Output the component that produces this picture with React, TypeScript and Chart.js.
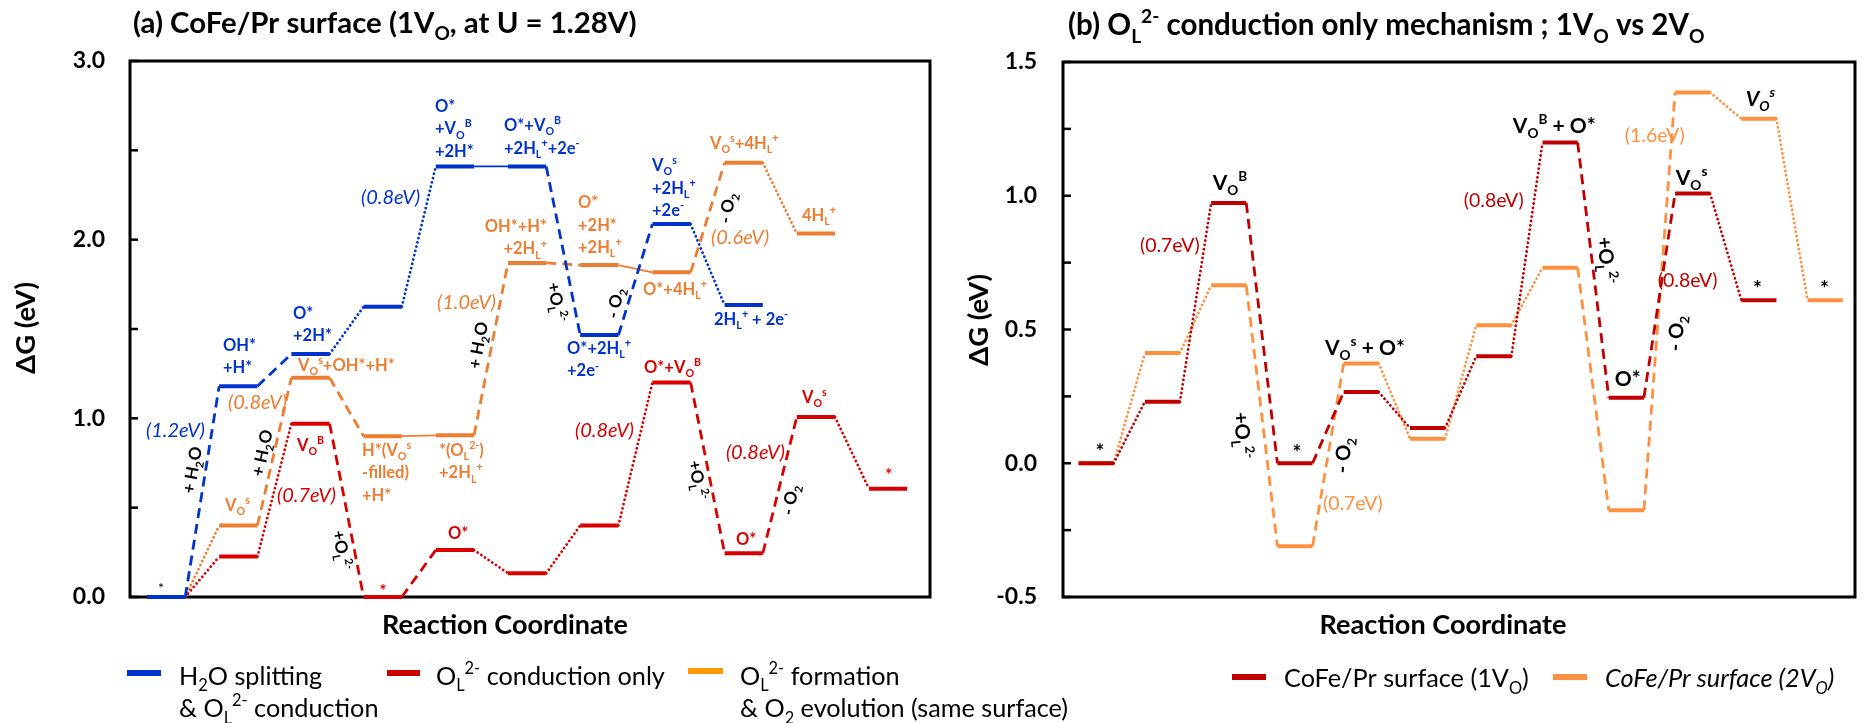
import React, { useEffect, useRef } from 'react';
import { Chart, registerables } from 'chart.js';
Chart.register(...registerables);

const FONT = 'Lato, "Noto Sans", sans-serif';
const BLUE = '#0033CC';
const RED_L = '#D80000';
const ORANGE_L = '#ED7D31';
const RED_R = '#C00000';
const ORANGE_R = '#FF9040';
const BLACK = '#000000';

// ---------- Panel (a) data: free energy of each state, column 1..n ----------
const leftBlueLevels = [0, 1.18, 1.36, 1.625, 2.41, 2.41, 1.466, 2.087, 1.634];
const leftBlueLinks = ['dash', 'dash', 'dot', 'dot', 'solid', 'dash', 'dash', 'dot'];
const leftRedLevels = [0, 0.226, 0.97, 0, 0.263, 0.133, 0.4, 1.2, 0.245, 1.007, 0.606];
const leftRedLinks = ['dot', 'dot', 'dash', 'dash', 'dot', 'dot', 'dot', 'dash', 'dash', 'dot'];
const leftOrangeLevels = [0, 0.4, 1.227, 0.9, 0.905, 1.87, 1.858, 1.817, 2.43, 2.035];
const leftOrangeLinks = ['dot', 'dash', 'dash', 'solid', 'dash', 'dash', 'solid', 'dash', 'dot'];
const leftYRange = [0, 3];
const leftXRange = [0.5, 11.58];

// ---------- Panel (b) data ----------
const rightRedLevels = [0, 0.23, 0.973, 0, 0.266, 0.132, 0.4, 1.199, 0.245, 1.008, 0.609];
const rightRedLinks = ['dot', 'dot', 'dash', 'dash', 'dot', 'dot', 'dot', 'dash', 'dash', 'dot'];
const rightOrangeLevels = [0, 0.412, 0.665, -0.31, 0.373, 0.092, 0.516, 0.731, -0.176, 1.386, 1.288, 0.609];
const rightOrangeLinks = ['dot', 'dot', 'dash', 'dash', 'dot', 'dot', 'dot', 'dash', 'dash', 'dot', 'dot'];
const rightYRange = [-0.5, 1.5];
const rightXRange = [0.5, 12.45];

const LEVEL_HALF = 0.265;

type Lab = { t: string[]; x: number; y: number; c: string; size?: number; w?: string; st?: string; al?: 'left' | 'center' | 'right'; rot?: number };

// ---------- Panel (a) annotations (x: column, y: eV) ----------
const leftStateLabels: Lab[] = [
  { t: ['OH*', '+H*'], x: 1.788, y: 1.41, c: BLUE },
  { t: ['O*', '+2H*'], x: 2.758, y: 1.589, c: BLUE },
  { t: ['O*', '+V_{O}^{B}', '+2H*'], x: 4.724, y: 2.748, c: BLUE },
  { t: ['O*+V_{O}^{B}', '+2H_{L}^{+}+2e^{-}'], x: 5.68, y: 2.641, c: BLUE },
  { t: ['V_{O}^{s}', '+2H_{L}^{+}', '+2e^{-}'], x: 7.73, y: 2.417, c: BLUE },
  { t: ['O*+2H_{L}^{+}', '+2e^{-}'], x: 6.553, y: 1.393, c: BLUE },
  { t: ['2H_{L}^{+} + 2e^{-}'], x: 8.589, y: 1.556, c: BLUE },
  { t: ['V_{O}^{s}'], x: 1.816, y: 0.515, c: ORANGE_L },
  { t: ['V_{O}^{s}+OH*+H*'], x: 2.827, y: 1.298, c: ORANGE_L },
  { t: ['H*(V_{O}^{s}', '-filled)', '+H*'], x: 3.713, y: 0.823, c: ORANGE_L },
  { t: ['*(O_{L}^{2-})', '+2H_{L}^{+}'], x: 4.78, y: 0.823, c: ORANGE_L },
  { t: ['OH*+H*', '+2H_{L}^{+}'], x: 6.276, y: 2.076, c: ORANGE_L, al: 'right' },
  { t: ['O*', '+2H*', '+2H_{L}^{+}'], x: 6.705, y: 2.21, c: ORANGE_L },
  { t: ['O*+4H_{L}^{+}'], x: 7.605, y: 1.724, c: ORANGE_L },
  { t: ['V_{O}^{s}+4H_{L}^{+}'], x: 8.533, y: 2.54, c: ORANGE_L },
  { t: ['4H_{L}^{+}'], x: 9.807, y: 2.138, c: ORANGE_L },
  { t: ['V_{O}^{B}'], x: 2.813, y: 0.851, c: RED_L },
  { t: ['*'], x: 4.004, y: 0.035, c: RED_L, al: 'center' },
  { t: ['O*'], x: 4.904, y: 0.358, c: RED_L },
  { t: ['O*+V_{O}^{B}'], x: 7.619, y: 1.287, c: RED_L },
  { t: ['O*'], x: 8.893, y: 0.325, c: RED_L },
  { t: ['V_{O}^{s}'], x: 9.807, y: 1.119, c: RED_L },
  { t: ['*'], x: 11.01, y: 0.68, c: RED_L, al: 'center' },
  { t: ['*'], x: 0.93, y: 0.05, c: BLACK, al: 'center', size: 14, w: 'normal' },
];
const leftEnergyLabels: Lab[] = [
  { t: ['(1.2eV)'], x: 0.722, y: 0.935, c: BLUE },
  { t: ['(0.8eV)'], x: 3.7, y: 2.238, c: BLUE },
  { t: ['(0.8eV)'], x: 1.857, y: 1.091, c: ORANGE_L },
  { t: ['(1.0eV)'], x: 4.752, y: 1.651, c: ORANGE_L },
  { t: ['(0.6eV)'], x: 8.547, y: 2.015, c: ORANGE_L },
  { t: ['(0.7eV)'], x: 2.536, y: 0.571, c: RED_L },
  { t: ['(0.8eV)'], x: 6.663, y: 0.935, c: RED_L },
  { t: ['(0.8eV)'], x: 8.753, y: 0.811, c: RED_L },
];
const leftStepLabels: Lab[] = [
  { t: ['+ H_{2}O'], x: 1.359, y: 0.711, c: BLACK, rot: -80 },
  { t: ['+ H_{2}O'], x: 2.328, y: 0.806, c: BLACK, rot: -78 },
  { t: ['+O_{L}^{2-}'], x: 3.436, y: 0.263, c: BLACK, rot: 80 },
  { t: ['+ H_{2}O'], x: 5.32, y: 1.41, c: BLACK, rot: -80 },
  { t: ['+O_{L}^{2-}'], x: 6.414, y: 1.651, c: BLACK, rot: 80 },
  { t: ['- O_{2}'], x: 7.217, y: 1.645, c: BLACK, rot: -80 },
  { t: ['- O_{2}'], x: 8.769, y: 2.177, c: BLACK, rot: -80 },
  { t: ['+O_{L}^{2-}'], x: 8.367, y: 0.655, c: BLACK, rot: 80 },
  { t: ['- O_{2}'], x: 9.641, y: 0.543, c: BLACK, rot: -80 },
];

// ---------- Panel (b) annotations ----------
const rightStateLabels: Lab[] = [
  { t: ['*'], x: 1.058, y: 0.045, c: BLACK, al: 'center' },
  { t: ['V_{O}^{B}'], x: 3.019, y: 1.05, c: BLACK, al: 'center' },
  { t: ['V_{O}^{s} + O*'], x: 4.452, y: 0.434, c: BLACK },
  { t: ['*'], x: 4.03, y: 0.042, c: BLACK, al: 'center' },
  { t: ['V_{O}^{B} + O*'], x: 7.287, y: 1.263, c: BLACK },
  { t: ['O*'], x: 8.826, y: 0.318, c: BLACK },
  { t: ['V_{O}^{s}'], x: 9.746, y: 1.069, c: BLACK },
  { t: ['V_{O}^{s}'], x: 10.8, y: 1.364, c: BLACK, st: 'italic' },
  { t: ['*'], x: 10.98, y: 0.652, c: BLACK, al: 'center' },
  { t: ['*'], x: 11.99, y: 0.652, c: BLACK, al: 'center' },
];
const rightEnergyLabels: Lab[] = [
  { t: ['(0.7eV)'], x: 1.661, y: 0.815, c: RED_R },
  { t: ['(0.7eV)'], x: 4.422, y: -0.15, c: ORANGE_R },
  { t: ['(0.8eV)'], x: 6.548, y: 0.983, c: RED_R },
  { t: ['(1.6eV)'], x: 8.977, y: 1.226, c: ORANGE_R },
  { t: ['(0.8eV)'], x: 9.474, y: 0.684, c: RED_R },
];
const rightStepLabels: Lab[] = [
  { t: ['+O_{L}^{2-}'], x: 3.215, y: 0.104, c: BLACK, rot: 85 },
  { t: ['- O_{2}'], x: 4.723, y: 0.03, c: BLACK, rot: -85 },
  { t: ['+O_{L}^{2-}'], x: 8.705, y: 0.759, c: BLACK, rot: 85 },
  { t: ['- O_{2}'], x: 9.746, y: 0.486, c: BLACK, rot: -85 },
];

// ---------- rich text helpers ----------
type Run = { t: string; m: number };
function runsOf(s: string): Run[] {
  const runs: Run[] = [];
  let buf = '';
  let i = 0;
  while (i < s.length) {
    const ch = s[i];
    if ((ch === '_' || ch === '^') && s[i + 1] === '{') {
      if (buf) { runs.push({ t: buf, m: 0 }); buf = ''; }
      const end = s.indexOf('}', i + 2);
      runs.push({ t: s.slice(i + 2, end), m: ch === '_' ? 1 : 2 });
      i = end + 1;
    } else { buf += ch; i++; }
  }
  if (buf) runs.push({ t: buf, m: 0 });
  return runs;
}
const SUBK = 0.65;
function fnt(size: number, weight: string, style: string) {
  return `${style} ${weight} ${size}px ${FONT}`;
}
function richWidth(ctx: CanvasRenderingContext2D, s: string, size: number, weight: string, style: string) {
  let w = 0;
  for (const r of runsOf(s)) {
    ctx.font = fnt(r.m ? size * SUBK : size, weight, style);
    w += ctx.measureText(r.t).width;
  }
  return w;
}
function drawRich(ctx: CanvasRenderingContext2D, s: string, x: number, y: number, size: number, color: string,
  weight = 'bold', style = 'normal', align: string = 'left') {
  const w = richWidth(ctx, s, size, weight, style);
  let cx = align === 'center' ? x - w / 2 : align === 'right' ? x - w : x;
  const base = y + size * 0.36;
  ctx.fillStyle = color;
  ctx.textAlign = 'left';
  ctx.textBaseline = 'alphabetic';
  for (const r of runsOf(s)) {
    const sz = r.m ? size * SUBK : size;
    ctx.font = fnt(sz, weight, style);
    const dy = r.m === 1 ? size * 0.26 : r.m === 2 ? -size * 0.42 : 0;
    ctx.fillText(r.t, cx, base + dy);
    cx += ctx.measureText(r.t).width;
  }
}
function fitSize(ctx: CanvasRenderingContext2D, s: string, target: number, weight: string, style: string) {
  return (20 * target) / richWidth(ctx, s, 20, weight, style);
}
function drawLabels(chart: any, labels: Lab[], size: number, weight: string, style: string) {
  const { ctx, scales } = chart;
  for (const L of labels) {
    const px = scales.x.getPixelForValue(L.x);
    const py = scales.y.getPixelForValue(L.y);
    const sz = L.size ?? size;
    const w = L.w ?? weight;
    const st = L.st ?? style;
    if (L.rot) {
      ctx.save();
      ctx.translate(px, py);
      ctx.rotate((L.rot * Math.PI) / 180);
      drawRich(ctx, L.t[0], 0, 0, sz, L.c, w, st, 'center');
      ctx.restore();
    } else {
      L.t.forEach((line, i) => drawRich(ctx, line, px, py + i * sz * 1.36, sz, L.c, w, st, L.al ?? 'left'));
    }
  }
}

// ---------- dataset builders ----------
function levelPoints(levels: number[]) {
  const pts: { x: number; y: number }[] = [];
  levels.forEach((v, i) => {
    pts.push({ x: i + 1 - LEVEL_HALF, y: v });
    pts.push({ x: i + 1 + LEVEL_HALF, y: v });
  });
  return pts;
}
function linkType(links: string[], k: number) {
  return k % 2 === 0 ? 'level' : links[(k - 1) / 2];
}
function energyDataset(levels: number[], links: string[], color: string, order: number) {
  return {
    data: levelPoints(levels),
    borderColor: color,
    backgroundColor: color,
    borderWidth: 4,
    pointRadius: 0,
    tension: 0,
    fill: false,
    clip: false as any,
    order,
    segment: {
      borderDash: (c: any) => {
        const t = linkType(links, c.p0DataIndex);
        return t === 'dash' ? [10, 6] : t === 'dot' ? [0.01, 4.4] : [];
      },
      borderWidth: (c: any) => {
        const t = linkType(links, c.p0DataIndex);
        return t === 'level' ? 4 : t === 'solid' ? 1.8 : 2.8;
      },
      borderCapStyle: (c: any) => (linkType(links, c.p0DataIndex) === 'dot' ? 'round' : 'butt'),
    },
  };
}

function framePlugin() {
  return {
    id: 'frame',
    beforeDatasetsDraw(chart: any) {
      const { ctx, chartArea: a, scales } = chart;
      ctx.save();
      ctx.strokeStyle = '#000';
      ctx.lineWidth = 3;
      ctx.strokeRect(a.left, a.top, a.right - a.left, a.bottom - a.top);
      ctx.lineWidth = 2.5;
      for (const t of scales.y.ticks) {
        const py = scales.y.getPixelForValue(t.value);
        ctx.beginPath();
        ctx.moveTo(a.left, py);
        ctx.lineTo(a.left + 8, py);
        ctx.stroke();
      }
      ctx.restore();
    },
  };
}

function baseOptions(xr: number[], yr: number[], step: number, labelEvery: number, axisW: number, padding: any) {
  return {
    responsive: false,
    animation: false as const,
    devicePixelRatio: 1,
    events: [],
    layout: { padding },
    plugins: { legend: { display: false }, tooltip: { enabled: false } },
    scales: {
      x: { type: 'linear' as const, min: xr[0], max: xr[1], display: false },
      y: {
        type: 'linear' as const,
        min: yr[0],
        max: yr[1],
        grid: { display: false, drawTicks: false },
        border: { display: false },
        afterFit: (s: any) => { s.width = axisW; },
        ticks: {
          stepSize: step,
          autoSkip: false,
          padding: 25,
          color: '#000',
          font: { family: FONT, size: 23, weight: 'bold' as const },
          callback: (v: any) => {
            const q = Number(v) / labelEvery;
            return Math.abs(q - Math.round(q)) < 1e-9 ? (Math.abs(Number(v)) < 1e-9 ? '0.0' : Number(v).toFixed(1)) : '';
          },
        },
      },
    },
  };
}

export default function App() {
  const aRef = useRef<HTMLCanvasElement>(null);
  const bRef = useRef<HTMLCanvasElement>(null);

  useEffect(() => {
    const deco = {
      id: 'decoA',
      afterDatasetsDraw(chart: any) {
        drawLabels(chart, leftStateLabels, 16.5, 'bold', 'normal');
        drawLabels(chart, leftEnergyLabels, 20, 'normal', 'italic');
        drawLabels(chart, leftStepLabels, 17, 'bold', 'normal');
      },
      afterDraw(chart: any) {
        const ctx = chart.ctx as CanvasRenderingContext2D;
        ctx.save();
        const title = '(a) CoFe/Pr surface (1V_{O}, at U = 1.28V)';
        drawRich(ctx, title, 133, 22, fitSize(ctx, title, 504, 'bold', 'normal'), BLACK, 'bold');
        const rc = 'Reaction Coordinate';
        drawRich(ctx, rc, 505, 624, fitSize(ctx, rc, 246, 'bold', 'normal'), BLACK, 'bold', 'normal', 'center');
        const yt = 'ΔG (eV)';
        ctx.save();
        ctx.translate(25, 328);
        ctx.rotate(-Math.PI / 2);
        drawRich(ctx, yt, 0, 0, fitSize(ctx, yt, 92, 'bold', 'normal'), BLACK, 'bold', 'normal', 'center');
        ctx.restore();
        // legend
        const ls = fitSize(ctx, 'O_{L}^{2-} conduction only', 229, 'normal', 'normal');
        const sample = (x0: number, x1: number, y: number, c: string) => {
          ctx.strokeStyle = c; ctx.lineWidth = 6; ctx.lineCap = 'butt';
          ctx.beginPath(); ctx.moveTo(x0, y); ctx.lineTo(x1, y); ctx.stroke();
        };
        sample(127, 161, 673, BLUE);
        drawRich(ctx, 'H_{2}O splitting', 179, 675.5, ls, BLACK, 'normal');
        drawRich(ctx, '& O_{L}^{2-} conduction', 179, 708, ls, BLACK, 'normal');
        sample(387, 420, 673, '#CC0000');
        drawRich(ctx, 'O_{L}^{2-} conduction only', 436, 675.5, ls, BLACK, 'normal');
        sample(688, 723, 671, '#FF9900');
        drawRich(ctx, 'O_{L}^{2-} formation', 740, 675.5, ls, BLACK, 'normal');
        drawRich(ctx, '& O_{2} evolution (same surface)', 740, 708, ls, BLACK, 'normal');
        ctx.restore();
      },
    };
    const decoB = {
      id: 'decoB',
      afterDatasetsDraw(chart: any) {
        drawLabels(chart, rightStateLabels, 21, 'bold', 'normal');
        drawLabels(chart, rightEnergyLabels, 19.5, 'normal', 'normal');
        drawLabels(chart, rightStepLabels, 20, 'bold', 'normal');
      },
      afterDraw(chart: any) {
        const ctx = chart.ctx as CanvasRenderingContext2D;
        ctx.save();
        const title = '(b) O_{L}^{2-} conduction only mechanism ; 1V_{O} vs 2V_{O}';
        drawRich(ctx, title, 108, 24.5, fitSize(ctx, title, 637, 'bold', 'normal'), BLACK, 'bold');
        const rc = 'Reaction Coordinate';
        drawRich(ctx, rc, 483, 624, fitSize(ctx, rc, 247, 'bold', 'normal'), BLACK, 'bold', 'normal', 'center');
        const yt = 'ΔG (eV)';
        ctx.save();
        ctx.translate(18, 320);
        ctx.rotate(-Math.PI / 2);
        drawRich(ctx, yt, 0, 0, fitSize(ctx, yt, 92, 'bold', 'normal'), BLACK, 'bold', 'normal', 'center');
        ctx.restore();
        const ls = fitSize(ctx, 'CoFe/Pr surface (1V_{O})', 245, 'normal', 'normal');
        const sample = (x0: number, x1: number, y: number, c: string) => {
          ctx.strokeStyle = c; ctx.lineWidth = 6; ctx.lineCap = 'butt';
          ctx.beginPath(); ctx.moveTo(x0, y); ctx.lineTo(x1, y); ctx.stroke();
        };
        sample(272, 306, 677, RED_R);
        drawRich(ctx, 'CoFe/Pr surface (1V_{O})', 324, 678, ls, BLACK, 'normal');
        sample(593, 627, 677, ORANGE_R);
        drawRich(ctx, 'CoFe/Pr surface (2V_{O})', 645, 678, ls, BLACK, 'normal', 'italic');
        ctx.restore();
      },
    };

    const ca = new Chart(aRef.current!, {
      type: 'line',
      data: {
        datasets: [
          energyDataset(leftBlueLevels, leftBlueLinks, BLUE, 0),
          energyDataset(leftRedLevels, leftRedLinks, RED_L, 1),
          energyDataset(leftOrangeLevels, leftOrangeLinks, ORANGE_L, 2),
        ] as any,
      },
      options: baseOptions(leftXRange, leftYRange, 0.5, 1, 130, { left: 0, top: 61, right: 170, bottom: 126 }) as any,
      plugins: [framePlugin(), deco],
    });
    const opB: any = baseOptions(rightXRange, rightYRange, 0.25, 0.5, 103, { left: 0, top: 62, right: 9, bottom: 126 });
    opB.scales.y.ticks.padding = 26;
    const cb = new Chart(bRef.current!, {
      type: 'line',
      data: {
        datasets: [
          energyDataset(rightRedLevels, rightRedLinks, RED_R, 0),
          energyDataset(rightOrangeLevels, rightOrangeLinks, ORANGE_R, 1),
        ] as any,
      },
      options: opB,
      plugins: [framePlugin(), decoB],
    });
    return () => { ca.destroy(); cb.destroy(); };
  }, []);

  return (
    <div style={{ position: 'absolute', left: 0, top: 0, width: 1864, height: 723, background: '#fff' }}>
      <canvas ref={aRef} width={1100} height={723} style={{ position: 'absolute', left: 0, top: 0 }} />
      <canvas ref={bRef} width={904} height={723} style={{ position: 'absolute', left: 960, top: 0 }} />
    </div>
  );
}
